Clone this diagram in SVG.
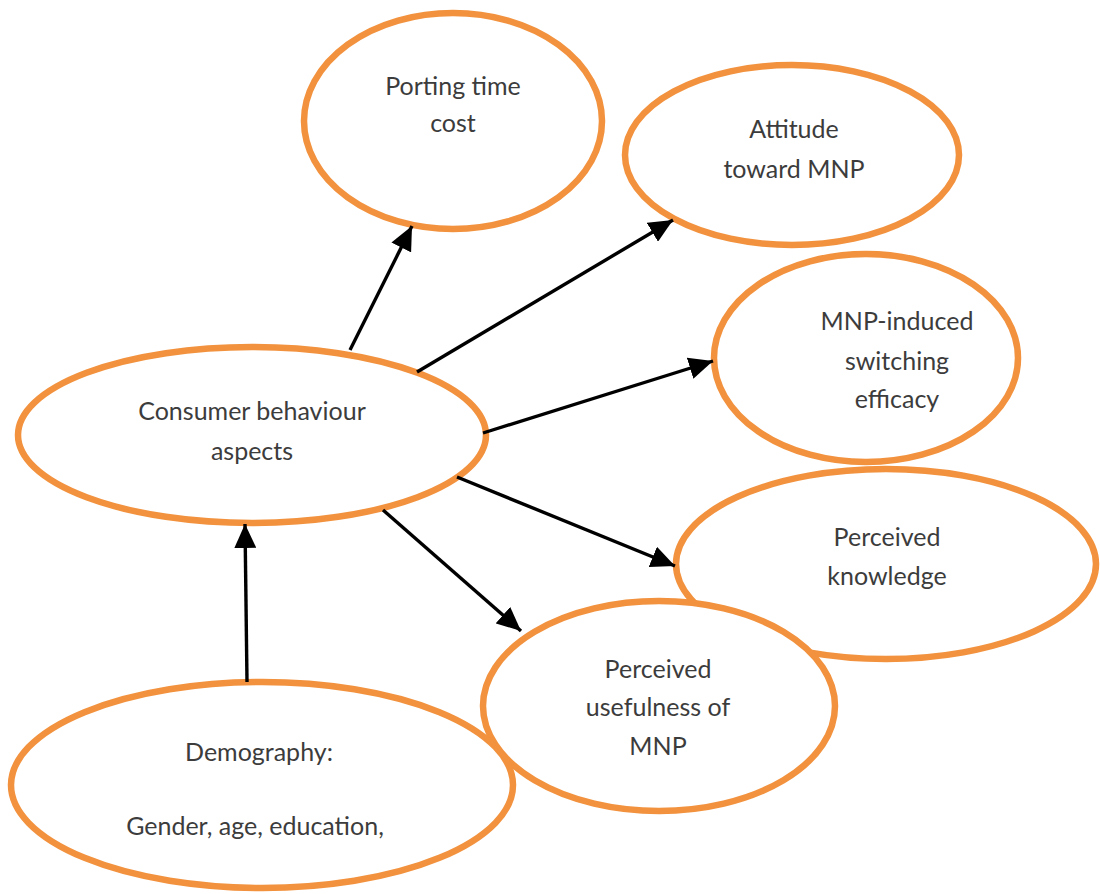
<svg xmlns="http://www.w3.org/2000/svg" width="1100" height="894" viewBox="0 0 1100 894">
<style>
.n ellipse{fill:#fff;stroke:#F2923E;stroke-width:6.5}
.n text{font-family:Lato,"Open Sans","Liberation Sans",sans-serif;font-size:25px;fill:#3c3c3c;text-anchor:middle}
.c line{stroke:#000;stroke-width:3.4}
</style>
<defs>
<marker id="ah" markerUnits="userSpaceOnUse" markerWidth="26" markerHeight="22" refX="24" refY="11" orient="auto">
<path d="M0,0 L24,11 L0,22 Z" fill="#000"/>
</marker>
</defs>
<rect width="1100" height="894" fill="#fff"/>
<g id="porting" class="n">
<ellipse cx="453" cy="121" rx="149" ry="108"/>
<text x="453" y="95">Porting time</text>
<text x="453" y="132">cost</text>
</g>
<g id="attitude" class="n">
<ellipse cx="792" cy="155" rx="167" ry="90"/>
<text x="794" y="138">Attitude</text>
<text x="794" y="178">toward MNP</text>
</g>
<g id="switching" class="n">
<ellipse cx="866" cy="358" rx="152" ry="104"/>
<text x="897" y="330">MNP-induced</text>
<text x="897" y="370">switching</text>
<text x="897" y="408">efficacy</text>
</g>
<g id="knowledge" class="n">
<ellipse cx="886" cy="564" rx="210" ry="95"/>
<text x="887" y="546">Perceived</text>
<text x="887" y="585">knowledge</text>
</g>
<g id="usefulness" class="n">
<ellipse cx="659" cy="706" rx="176" ry="105"/>
<text x="658" y="678">Perceived</text>
<text x="658" y="716">usefulness of</text>
<text x="658" y="755">MNP</text>
</g>
<g id="demography" class="n">
<ellipse cx="262" cy="785" rx="251" ry="103"/>
<text x="259" y="761">Demography:</text>
<text x="255" y="835">Gender, age, education,</text>
</g>
<g id="consumer" class="n">
<ellipse cx="252" cy="435" rx="234" ry="88"/>
<text x="252" y="420">Consumer behaviour</text>
<text x="252" y="460">aspects</text>
</g>
<g id="connectors" class="c">
<line x1="350" y1="350" x2="412" y2="226" marker-end="url(#ah)"/>
<line x1="417" y1="372" x2="673" y2="220" marker-end="url(#ah)"/>
<line x1="483" y1="433" x2="713" y2="361" marker-end="url(#ah)"/>
<line x1="457" y1="477" x2="675" y2="566" marker-end="url(#ah)"/>
<line x1="383" y1="510" x2="521" y2="631" marker-end="url(#ah)"/>
<line x1="247" y1="682" x2="245" y2="524" marker-end="url(#ah)"/>
</g>
</svg>
